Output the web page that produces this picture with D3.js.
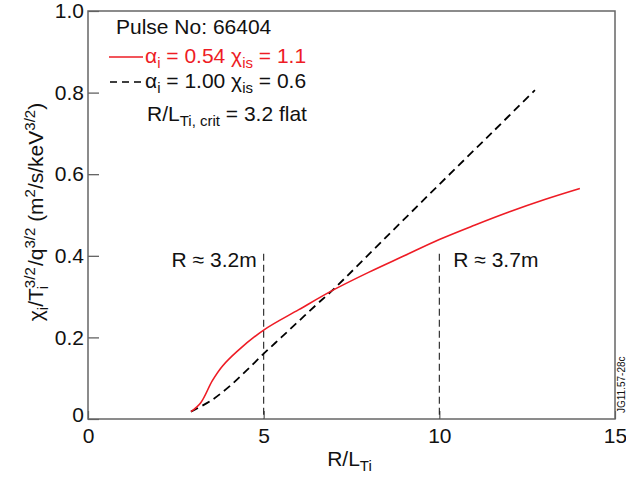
<!DOCTYPE html>
<html>
<head>
<meta charset="utf-8">
<script src="https://cdn.jsdelivr.net/npm/d3@7"></script>
<style>
  body { margin: 0; background: #fff; }
  text { font-family: "Liberation Sans", Arial, sans-serif; }
</style>
</head>
<body>
<div class="canvas"></div>
<script>
// data
const redX = [2.93, 3.21, 3.54, 3.83, 4.26, 5.0, 6.0, 7.0, 8.0, 9.0, 10.0, 11.0, 12.0, 13.0, 14.0];
const redY = [0.018, 0.04, 0.094, 0.13, 0.167, 0.218, 0.268, 0.317, 0.36, 0.4, 0.44, 0.475, 0.508, 0.538, 0.565];
const blackX = [2.93, 3.5, 4.0, 4.5, 5.0, 5.5, 6.0, 6.5, 7.0, 8.5, 10.0, 11.5, 12.72];
const blackY = [0.018, 0.045, 0.078, 0.118, 0.16, 0.2, 0.24, 0.28, 0.319, 0.447, 0.575, 0.702, 0.806];
const markerX = [5, 10];
const markerTop = 0.405;
const markerLabels = ["R ≈ 3.2m", "R ≈ 3.7m"];
const xTicks = [0, 5, 10, 15];
const yTicks = [0, 0.2, 0.4, 0.6, 0.8, 1.0];

const margin = { top: 11, bottom: 58, left: 88, right: 11 };
const width = 626;
const height = 477;
const graphWidth = width - margin.left - margin.right;
const graphHeight = height - margin.top - margin.bottom;
const fs = 21;

const svg = d3
  .select(".canvas")
  .append("svg")
  .attr("width", width)
  .attr("height", height);

const graph = svg
  .append("g")
  .attr("transform", `translate(${margin.left},${margin.top})`);

// scales
const x = d3.scaleLinear().domain([0, 15]).range([0, graphWidth]);
const y = d3.scaleLinear().domain([0, 1]).range([graphHeight, 0]);

// axes
const xAxis = d3.axisBottom(x).tickValues(xTicks).tickSizeInner(-8).tickSizeOuter(0).tickPadding(6).tickFormat(d3.format("d"));
const yAxis = d3.axisLeft(y).tickValues(yTicks).tickSizeInner(-11).tickSizeOuter(0).tickPadding(4)
  .tickFormat((d) => (d === 0 ? "0" : d3.format(".1f")(d)));

const xAxisGroup = graph.append("g").attr("transform", `translate(0,${graphHeight})`).call(xAxis);
const yAxisGroup = graph.append("g").call(yAxis);

[xAxisGroup, yAxisGroup].forEach((g) => {
  g.select(".domain").remove();
  g.selectAll("line").attr("stroke", "#555").attr("stroke-width", 1.2);
  g.selectAll("text").attr("fill", "#111").style("font-size", fs + "px");
});
yAxisGroup.selectAll(".tick").filter((d) => d === 0).select("text").attr("dy", "0.1em");
xAxisGroup.selectAll("text").attr("dy", "0.85em");

// frame
graph
  .append("rect")
  .attr("width", graphWidth)
  .attr("height", graphHeight)
  .attr("fill", "none")
  .attr("stroke", "#666")
  .attr("stroke-width", 1.5);

// vertical markers
markerX.forEach((m, i) => {
  graph
    .append("line")
    .attr("x1", x(m))
    .attr("x2", x(m))
    .attr("y1", y(markerTop))
    .attr("y2", y(0))
    .attr("stroke", "#222")
    .attr("stroke-width", 1.1)
    .attr("stroke-dasharray", "7,4");
  graph
    .append("text")
    .attr("x", i === 0 ? x(m) - 7 : x(m) + 14)
    .attr("y", y(markerTop) + 13)
    .attr("text-anchor", i === 0 ? "end" : "start")
    .style("font-size", fs + "px")
    .attr("fill", "#111")
    .text(markerLabels[i]);
});

// lines
const line = d3
  .line()
  .x((d) => x(d[0]))
  .y((d) => y(d[1]))
  .curve(d3.curveCatmullRom.alpha(0.5));

graph
  .append("path")
  .datum(blackX.map((v, i) => [v, blackY[i]]))
  .attr("fill", "none")
  .attr("stroke", "#000")
  .attr("stroke-width", 1.8)
  .attr("stroke-dasharray", "8,5")
  .attr("d", line);

graph
  .append("path")
  .datum(redX.map((v, i) => [v, redY[i]]))
  .attr("fill", "none")
  .attr("stroke", "#ee1c25")
  .attr("stroke-width", 1.6)
  .attr("d", line);

// legend
const sub = (t, s) => t.append("tspan").attr("dy", 5).style("font-size", "15px").text(s);
const norm = (t, s) => t.append("tspan").attr("dy", -5).text(s);

svg
  .append("text")
  .attr("x", 116)
  .attr("y", 34)
  .style("font-size", fs + "px")
  .attr("fill", "#111")
  .text("Pulse No: 66404");

svg.append("line")
  .attr("x1", 109).attr("x2", 143).attr("y1", 57).attr("y2", 57)
  .attr("stroke", "#ee1c25").attr("stroke-width", 1.6);
svg.append("line")
  .attr("x1", 110).attr("x2", 143).attr("y1", 82).attr("y2", 82)
  .attr("stroke", "#000").attr("stroke-width", 1.6).attr("stroke-dasharray", "7,5");

const leg1 = svg.append("text").attr("x", 145).attr("y", 63).style("font-size", fs + "px").attr("fill", "#ee1c25");
leg1.append("tspan").text("α");
sub(leg1, "i");
norm(leg1, " = 0.54 χ");
sub(leg1, "is");
norm(leg1, " = 1.1");

const leg2 = svg.append("text").attr("x", 145).attr("y", 88).style("font-size", fs + "px").attr("fill", "#111");
leg2.append("tspan").text("α");
sub(leg2, "i");
norm(leg2, " = 1.00 χ");
sub(leg2, "is");
norm(leg2, " = 0.6");

const leg3 = svg.append("text").attr("x", 147).attr("y", 121).style("font-size", fs + "px").attr("fill", "#111");
leg3.append("tspan").text("R/L");
sub(leg3, "Ti, crit");
norm(leg3, " = 3.2 flat");

// axis titles
const xt = svg.append("text")
  .attr("x", margin.left + x(7.5) - 2)
  .attr("y", 466)
  .attr("text-anchor", "middle")
  .style("font-size", fs + "px")
  .attr("fill", "#111");
xt.append("tspan").text("R/L");
sub(xt, "Ti");

const yt = svg.append("text")
  .attr("transform", "translate(43,212) rotate(-90)")
  .attr("text-anchor", "middle")
  .style("font-size", fs + "px")
  .attr("fill", "#111");
yt.append("tspan").text("χ");
sub(yt, "i");
norm(yt, "/T");
yt.append("tspan").attr("dy", -8).style("font-size", "15px").text("3/2");
yt.append("tspan").attr("dx", -22).attr("dy", 13).style("font-size", "15px").text("i");
yt.append("tspan").attr("dx", 14).attr("dy", -5).text(" /q");
yt.append("tspan").attr("dy", -8).style("font-size", "15px").text("3/2");
yt.append("tspan").attr("dy", 8).text(" (m");
yt.append("tspan").attr("dy", -8).style("font-size", "15px").text("2");
yt.append("tspan").attr("dy", 8).text("/s/keV");
yt.append("tspan").attr("dy", -8).style("font-size", "15px").text("3/2");
yt.append("tspan").attr("dy", 8).text(")");

// figure id
svg.append("text")
  .attr("transform", "translate(625,413) rotate(-90)")
  .style("font-size", "10px")
  .attr("fill", "#111")
  .text("JG11.57-28c");
</script>
</body>
</html>
